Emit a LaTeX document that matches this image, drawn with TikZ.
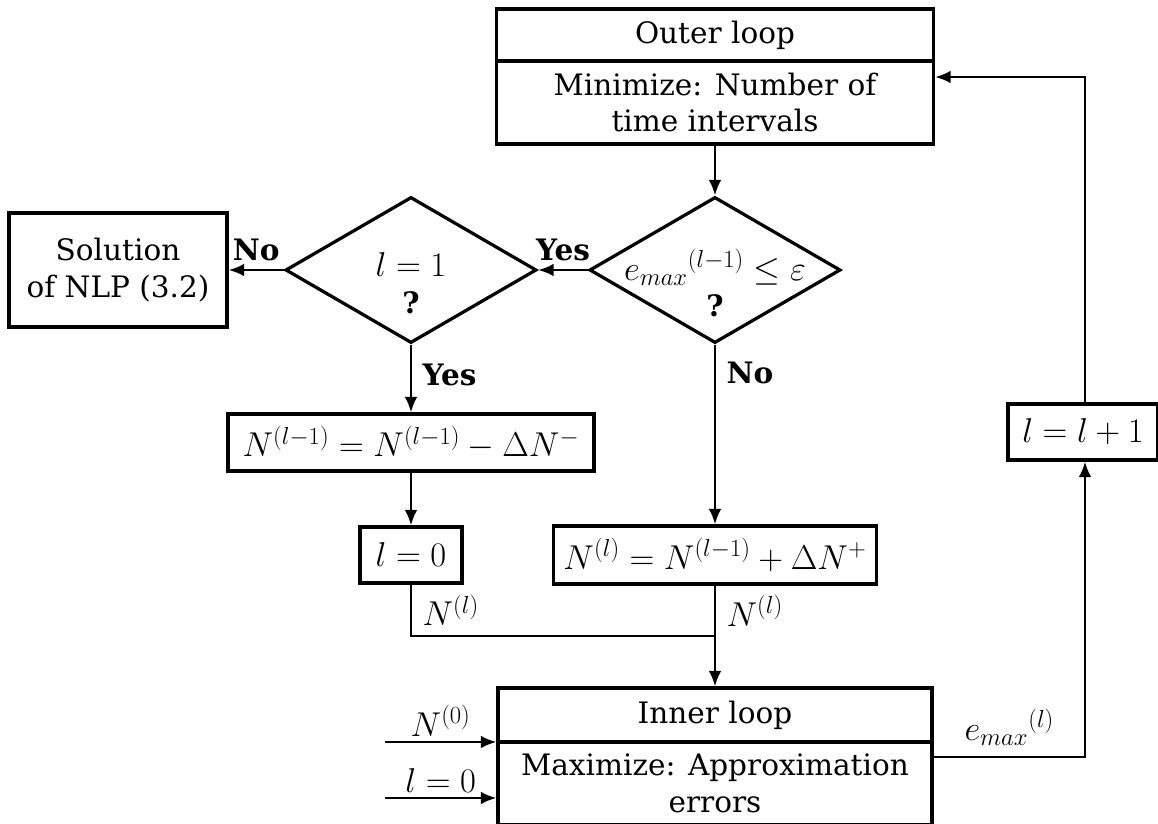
\RequirePackage{fix-cm}
\documentclass[tikz,border=0pt]{standalone}
\usepackage{amsmath,amssymb}
\usepackage{fontspec}
\setmainfont{DejaVu Serif}
\DeclareMathSizes{21}{24.5}{17.5}{13}
\usetikzlibrary{arrows.meta,shapes.geometric}

\begin{document}
\begin{tikzpicture}[x=0.025cm,y=-0.025cm,
  font=\fontsize{21}{26}\selectfont,
  box/.style={draw,rectangle,line width=2.3pt,inner sep=0pt,align=center},
  dec/.style={draw,diamond,line width=2.3pt,inner sep=0pt,
    minimum width=6.275cm,minimum height=3.65cm},
  qtxt/.style={align=center,inner sep=0pt},
  flow/.style={line width=1.7pt,-{Latex[length=11pt,width=9pt]}},
  link/.style={line width=1.7pt}]
  \clip (0,0) rectangle (1158,823);
  % outer loop
  \node[box,minimum width=10.925cm,minimum height=1.3cm] (otitle) at (715,35) {Outer loop};
  \node[box,minimum width=10.925cm,minimum height=2.075cm] (obody) at (715,102.5)
    {Minimize: Number of\\time intervals};
  % decisions
  \node[dec] (d1) at (715,270) {};
  \node[qtxt] (q1) at ([yshift=-0.33cm]d1.center) {${e_{max}}^{(l-1)} \leq \varepsilon$\\\textbf{?}};
  \node[dec] (d2) at (411,270) {};
  \node[qtxt] (q2) at ([yshift=-0.33cm]d2.center) {$l=1$\\\textbf{?}};
  \node[box,minimum width=5.45cm,minimum height=2.85cm] (sol) at (118,270)
    {Solution\\of NLP (3.2)};
  % updates
  \node[box,minimum width=9.15cm,minimum height=1.425cm] (nm) at (411,442.5)
    {$N^{(l-1)} = N^{(l-1)} - \Delta N^{-}$};
  \node[box,minimum width=2.55cm,minimum height=1.4cm] (lz) at (411,555) {$l=0$};
  \node[box,minimum width=8.075cm,minimum height=1.45cm] (np) at (715,555)
    {$N^{(l)} = N^{(l-1)} + \Delta N^{+}$};
  \node[box,minimum width=3.75cm,minimum height=1.4cm] (inc) at (1083,432) {$l=l+1$};
  % inner loop
  \node[box,minimum width=10.85cm,minimum height=1.35cm] (ititle) at (715,715) {Inner loop};
  \node[box,minimum width=10.85cm,minimum height=2.075cm] (ibody) at (715,783.5)
    {Maximize: Approximation\\errors};
  \coordinate (join) at (715,636);
  \coordinate (in0) at (385,742);
  \coordinate (in1) at (385,798);
  \coordinate (out) at (1085,757);
  \coordinate (back) at (1085,77);
  % connectors
  \draw[flow] (obody.south) -- (d1.north);
  \draw[flow] (d1.west) -- node[above=2pt] {\textbf{Yes}} (d2.east);
  \draw[flow] (d2.west) -- node[above=2pt] {\textbf{No}} (sol.east);
  \draw[flow] (d2.south) -- node[right=4pt,pos=0.45] {\textbf{Yes}} (nm.north);
  \draw[flow] (nm.south) -- (lz.north);
  \draw[flow] (d1.south) -- node[right=4pt,pos=0.16] {\textbf{No}} (np.north);
  \draw[link] (lz.south) -- node[right=4pt] {$N^{(l)}$} (lz.south |- join) -- (join);
  \draw[flow] (np.south) -- node[right=4pt] {$N^{(l)}$} (join) -- (ititle.north);
  \draw[flow] (in0) -- node[above] {$N^{(0)}$} (in0 -| ibody.west);
  \draw[flow] (in1) -- node[above] {$l=0$} (in1 -| ibody.west);
  \draw[flow] (out -| ibody.east) -- node[above=4pt] {${e_{max}}^{(l)}$} (out) -- (out |- inc.south);
  \draw[flow] (back |- inc.north) -- (back) -- (back -| obody.east);
\end{tikzpicture}
\end{document}
